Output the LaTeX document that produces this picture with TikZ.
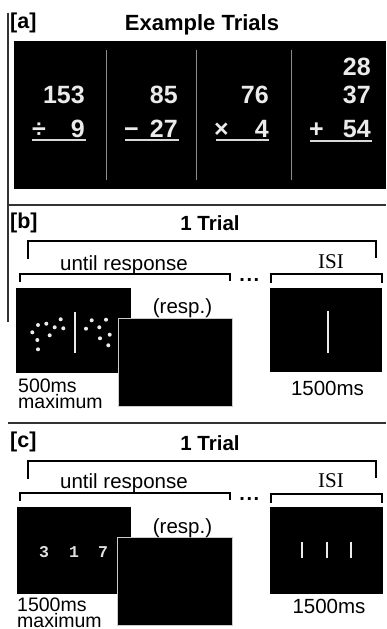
\documentclass[tikz,border=0pt]{standalone}
\usepackage{fontspec}
\setmainfont{Liberation Sans}
\newfontfamily\isifont{Liberation Serif}
\newfontfamily\digfont{Liberation Mono}
\begin{document}
\begin{tikzpicture}[x=1pt,y=-1pt,
  hdr/.style={inner sep=0pt, font=\fontsize{21.5}{21.5}\selectfont\bfseries},
  titlea/.style={inner sep=0pt, font=\fontsize{22}{22}\selectfont\bfseries},
  titleb/.style={inner sep=0pt, font=\fontsize{20.5}{20.5}\selectfont\bfseries},
  lbl/.style={inner sep=0pt, font=\fontsize{20.5}{15}\selectfont},
  small/.style={inner sep=0pt, align=left, font=\fontsize{19.5}{15.5}\selectfont},
  isitext/.style={inner sep=0pt, font=\fontsize{21}{21}\isifont},
  num/.style={inner sep=0pt, text=white!92!black, font=\fontsize{25}{25}\selectfont\bfseries},
  digs/.style={inner sep=0pt, text=white!88!black, font=\fontsize{16.5}{16.5}\digfont\bfseries},
  brk/.style={line width=2pt, line cap=rect},
  rulestyle/.style={line width=2pt, draw=black!80},
  sepline/.style={line width=1.5pt, draw=black!45},
  uline/.style={line width=2pt, draw=white!85!black},
  wline/.style={line width=2pt, draw=white!92!black},
  respscreen/.style={fill=black, draw=white!80!black, line width=1pt},
  dotsty/.style={fill=white!92!black}
]
\useasboundingbox (0,0) rectangle (386,629);

% frame lines
\draw[line width=1.5pt, draw=black!80] (8,12.5) -- (8,322);
\draw[rulestyle] (8,204.5) -- (386,204.5);
\draw[rulestyle] (8,423) -- (386,423);

% ---------- panel a ----------
\node[hdr, anchor=base west] (la) at (10,28) {[a]};
\node[titlea, anchor=base] (ta) at (202,30.5) {Example Trials};
\fill[black] (14,41) rectangle (386,189);
\draw[sepline] (106.7,50) -- (106.7,180);
\draw[sepline] (196.7,50) -- (196.7,180);
\draw[sepline] (291.7,50) -- (291.7,180);

\node[num, anchor=base east] (a1t) at (85,103.5) {153};
\node[num, anchor=base east] (a1b) at (85,137) {9};
\node[num, anchor=base west] (a1o) at (32,137) {÷};
\draw[uline] (32,140) -- (86,140);

\node[num, anchor=base east] (a2t) at (178,103.5) {85};
\node[num, anchor=base east] (a2b) at (178,137) {27};
\node[num, anchor=base west] (a2o) at (124,137) {−};
\draw[uline] (125,140) -- (179,140);

\node[num, anchor=base east] (a3t) at (269,103.5) {76};
\node[num, anchor=base east] (a3b) at (269,137) {4};
\node[num, anchor=base west] (a3o) at (214,137) {×};
\draw[uline] (216,140) -- (269,140);

\node[num, anchor=base east] (a4a) at (371,75) {28};
\node[num, anchor=base east] (a4t) at (371,103.5) {37};
\node[num, anchor=base east] (a4b) at (371,137) {54};
\node[num, anchor=base west] (a4o) at (309,137) {+};
\draw[uline] (310,141) -- (372,141);

% ---------- panel b ----------
\node[hdr, anchor=base west] (lb) at (10,228) {[b]};
\node[titleb, anchor=base] (tb) at (210,230) {1 Trial};
\draw[brk] (28,258) -- (28,240.5) -- (376,240.5) -- (376,257);
\node[lbl, anchor=base west] (urb) at (60,270) {until response};
\node[isitext, anchor=base] (isib) at (331,268) {ISI};
\draw[brk] (20,281) -- (20,273.5) -- (230,273.5) -- (230,280);
\draw[brk] (271,282) -- (271,274) -- (381.5,274) -- (381.5,282);
\node[inner sep=0pt, font=\fontsize{20}{20}\selectfont\bfseries, anchor=base] (dotsb) at (249.3,281) {.\hspace{1.6pt}.\hspace{1.6pt}.};

\fill[black] (16,287.5) rectangle (131,373);
\foreach \px/\py in {32.3/332.3, 38/325, 46.3/323.7, 54.7/327.3, 60.7/319.3, 63.3/328.3, 49.7/335.3, 37.3/340, 38/349.3,
                     86/328.7, 91.7/320.3, 99.3/327.3, 106/319.7, 109.7/334.7, 100/338.3, 108.3/345.3}
  \fill[dotsty] (\px,\py) circle (2pt);
\draw[wline] (75,311.7) -- (75,353.3);

\filldraw[respscreen] (118,318) rectangle (232,406.5);
\node[lbl, anchor=base] (rb) at (182.5,313) {(resp.)};

\fill[black] (270,287.7) rectangle (382,371.7);
\draw[wline] (328.3,310.7) -- (328.3,353.3);

\node[small, anchor=north west] (tb1) at (18,379) {500ms\\maximum};
\node[lbl, anchor=base] (tb3) at (327.5,395) {1500ms};

% ---------- panel c ----------
\begin{scope}[shift={(0,220)}]
\node[hdr, anchor=base west] (lc) at (10,227) {[c]};
\node[titleb, anchor=base] (tc) at (210,230) {1 Trial};
\draw[brk] (28,258) -- (28,240.5) -- (376,240.5) -- (376,257);
\node[lbl, anchor=base west] (urc) at (60,268.5) {until response};
\node[isitext, anchor=base] (isic) at (331,267) {ISI};
\draw[brk] (20,280) -- (20,273) -- (230,273) -- (230,279);
\draw[brk] (271,282) -- (271,273.5) -- (381.5,273.5) -- (381.5,282);
\node[inner sep=0pt, font=\fontsize{20}{20}\selectfont\bfseries, anchor=base] (dotsc) at (249.3,280) {.\hspace{1.6pt}.\hspace{1.6pt}.};

\fill[black] (16.5,287) rectangle (130.7,374);
\node[digs, anchor=base] (d3) at (44,337) {3};
\node[digs, anchor=base] (d1) at (74,337) {1};
\node[digs, anchor=base] (d7) at (103,337) {7};

\filldraw[respscreen] (117.5,317.5) rectangle (232,405);
\node[lbl, anchor=base] (rc) at (182.5,313) {(resp.)};

\fill[black] (270,287) rectangle (382.5,374);
\draw[wline] (301.7,321.7) -- (301.7,338.3);
\draw[wline] (326.7,321.7) -- (326.7,338.3);
\draw[wline] (351,321.7) -- (351,338.3);

\node[small, anchor=north west] (tc1) at (17,378) {1500ms\\maximum};
\node[lbl, anchor=base] (tc3) at (329,393) {1500ms};
\end{scope}
\end{tikzpicture}
\end{document}
